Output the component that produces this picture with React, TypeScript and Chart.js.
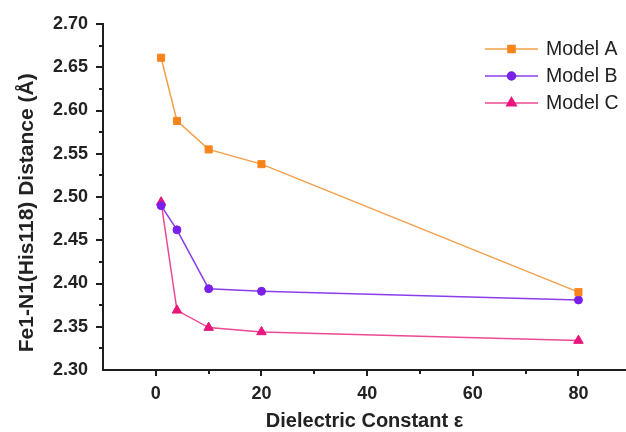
import React, { useEffect, useRef } from "react";
import { Chart, registerables } from "chart.js";
import { drawPoint } from "chart.js/helpers";

Chart.register(...registerables);

const dielectric = [1, 4, 10, 20, 80];
const modelA = [2.661, 2.588, 2.555, 2.538, 2.39];
const modelB = [2.49, 2.462, 2.394, 2.391, 2.381];
const modelC = [2.494, 2.369, 2.349, 2.344, 2.334];
const seriesNames = ["Model A", "Model B", "Model C"];
const xTickLabels = [0, 20, 40, 60, 80];
const yTickLabels = [2.3, 2.35, 2.4, 2.45, 2.5, 2.55, 2.6, 2.65, 2.7];
const xTitle = "Dielectric Constant \u03b5";
const yTitle = "Fe1-N1(His118) Distance (\u00c5)";

const FONT = "Arial, 'Liberation Sans', Helvetica, sans-serif";
const AXIS_COLOR = "#1e1e1e";

const isLabel = (list: number[], v: number) =>
  list.some((l) => Math.abs(l - v) < 1e-6);

const tickPlugin = {
  id: "customTicks",
  afterDraw(chart: any) {
    const { ctx, chartArea, scales } = chart;
    const xs = scales.x;
    const ys = scales.y;
    ctx.save();
    ctx.strokeStyle = AXIS_COLOR;
    ctx.lineWidth = 2;
    ctx.beginPath();
    xs.ticks.forEach((t: any) => {
      if (t.value <= xs.min + 1e-9) return;
      const px = Math.round(xs.getPixelForValue(t.value));
      const len = isLabel(xTickLabels, t.value) ? 6 : 4;
      ctx.moveTo(px, chartArea.bottom);
      ctx.lineTo(px, chartArea.bottom + len);
    });
    ys.ticks.forEach((t: any) => {
      if (t.value <= ys.min + 1e-9) return;
      const py = Math.round(ys.getPixelForValue(t.value));
      const len = isLabel(yTickLabels, t.value) ? 7 : 4;
      ctx.moveTo(chartArea.left, py);
      ctx.lineTo(chartArea.left - len, py);
    });
    ctx.stroke();
    ctx.restore();
  },
};

const legendPlugin = {
  id: "insideLegend",
  afterDraw(chart: any) {
    const { ctx, chartArea } = chart;
    const lineStart = chartArea.right - 141;
    const lineEnd = chartArea.right - 88;
    const textX = chartArea.right - 80;
    const firstRow = chartArea.top + 25;
    const rowStep = 27;
    ctx.save();
    chart.data.datasets.forEach((ds: any, i: number) => {
      const y = firstRow + i * rowStep;
      ctx.strokeStyle = ds.borderColor;
      ctx.lineWidth = 1.5;
      ctx.beginPath();
      ctx.moveTo(lineStart, y);
      ctx.lineTo(lineEnd, y);
      ctx.stroke();
      ctx.fillStyle = ds.pointBackgroundColor;
      ctx.strokeStyle = ds.pointBorderColor;
      drawPoint(
        ctx,
        { pointStyle: ds.pointStyle, radius: ds.pointRadius, rotation: 0, borderWidth: 1 },
        (lineStart + lineEnd) / 2,
        y
      );
      ctx.fillStyle = "#222";
      ctx.font = `19.5px ${FONT}`;
      ctx.textBaseline = "middle";
      ctx.textAlign = "left";
      ctx.fillText(ds.label, textX, y + 1);
    });
    ctx.restore();
  },
};

const seriesStyles = [
  { line: "#F2A04A", point: "#F7841A", style: "rect", radius: 5 },
  { line: "#8A3EEA", point: "#7A1FEA", style: "circle", radius: 4 },
  { line: "#EC4A92", point: "#E8157C", style: "triangle", radius: 5.5 },
];

export default function App() {
  const canvasRef = useRef<HTMLCanvasElement | null>(null);

  useEffect(() => {
    if (!canvasRef.current) return;
    const values = [modelA, modelB, modelC];
    const datasets = values.map((vals, i) => ({
      label: seriesNames[i],
      data: dielectric.map((x, j) => ({ x, y: vals[j] })),
      borderColor: seriesStyles[i].line,
      borderWidth: 1.5,
      pointBackgroundColor: seriesStyles[i].point,
      pointBorderColor: seriesStyles[i].point,
      pointBorderWidth: 1,
      pointStyle: seriesStyles[i].style,
      pointRadius: seriesStyles[i].radius,
      tension: 0,
      fill: false,
    }));

    const chart = new Chart(canvasRef.current, {
      type: "line",
      data: { datasets },
      plugins: [tickPlugin, legendPlugin],
      options: {
        animation: false,
        responsive: false,
        devicePixelRatio: 1,
        layout: { autoPadding: false, padding: { top: 24, right: 0, left: 0, bottom: 0 } },
        plugins: {
          legend: { display: false },
          tooltip: { enabled: false },
        },
        scales: {
          x: {
            type: "linear",
            min: -10,
            max: 89,
            ticks: {
              stepSize: 10,
              includeBounds: false,
              autoSkip: false,
              maxRotation: 0,
              padding: 7,
              color: "#222",
              font: { family: FONT, size: 18, weight: "bold" },
              callback: (v: any) => (isLabel(xTickLabels, Number(v)) ? String(v) : ""),
            },
            grid: {
              display: true,
              drawOnChartArea: false,
              drawTicks: true,
              tickLength: 6,
              tickColor: "transparent",
            },
            border: { display: true, color: AXIS_COLOR, width: 2 },
            title: {
              display: true,
              text: xTitle,
              color: "#222",
              font: { family: FONT, size: 20, weight: "bold" },
              padding: { top: 0, bottom: -1 },
            },
            afterFit: (scale: any) => {
              scale.height = 62;
              scale.paddingLeft = 0;
              scale.paddingRight = 0;
            },
          },
          y: {
            type: "linear",
            min: 2.3,
            max: 2.7,
            ticks: {
              stepSize: 0.025,
              autoSkip: false,
              padding: 8,
              color: "#222",
              font: { family: FONT, size: 18, weight: "bold" },
              callback: (v: any) =>
                isLabel(yTickLabels, Number(v)) ? Number(v).toFixed(2) : "",
            },
            grid: {
              display: true,
              drawOnChartArea: false,
              drawTicks: true,
              tickLength: 7,
              tickColor: "transparent",
            },
            border: { display: true, color: AXIS_COLOR, width: 2 },
            title: {
              display: true,
              text: yTitle + "\u2002\u2002\u2002",
              color: "#222",
              font: { family: FONT, size: 21, weight: "bold" },
              padding: { top: 15, bottom: 0 },
            },
            afterFit: (scale: any) => {
              scale.width = 103;
              scale.paddingTop = 0;
              scale.paddingBottom = 0;
            },
          },
        },
      } as any,
    });
    return () => chart.destroy();
  }, []);

  return (
    <div style={{ position: "fixed", left: 0, top: 0, width: 626, height: 432, background: "#fff" }}>
      <canvas ref={canvasRef} width={626} height={432} />
    </div>
  );
}
